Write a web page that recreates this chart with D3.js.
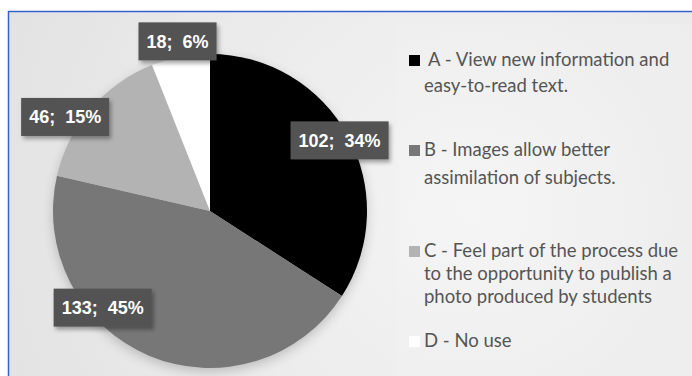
<!DOCTYPE html>
<html>
<head>
<meta charset="utf-8">
<script src="https://cdn.jsdelivr.net/npm/d3@7"></script>
<style>
  html, body { margin: 0; padding: 0; background: #fff; }
  svg { display: block; }
</style>
</head>
<body>
<svg id="chart" width="692" height="376"></svg>
<script>
// data
const categories = ['A', 'B', 'C', 'D'];
const counts = [102, 133, 46, 18];
const percents = [34, 45, 15, 6];
const legendLines = [
  [' A - View new information and', 'easy-to-read text.'],
  ['B - Images allow better', 'assimilation of subjects.'],
  ['C - Feel part of the process due', 'to the opportunity to publish a', 'photo produced by students'],
  ['D - No use']
];

const sliceColors = ['#000000', '#777777', '#b3b3b3', '#ffffff'];

// label placement (Excel "best fit" look): radius factor + optional angle override (deg)
const labelLayout = [{ k: 0.94 }, { k: 0.92, deg: 228 }, { k: 1.1, deg: 303 }, { k: 1.1 }];

const W = 692, H = 376;
const cx = 210, cy = 211, R = 157;

const svg = d3.select('#chart');
const defs = svg.append('defs');

const bg = defs.append('radialGradient').attr('id', 'bg')
  .attr('gradientUnits', 'userSpaceOnUse')
  .attr('cx', 470).attr('cy', 210).attr('r', 560);
bg.append('stop').attr('offset', '0%').attr('stop-color', '#f4f4f4');
bg.append('stop').attr('offset', '50%').attr('stop-color', '#ebebeb');
bg.append('stop').attr('offset', '100%').attr('stop-color', '#e0e0e0');

const pieShadow = defs.append('filter').attr('id', 'pieShadow')
  .attr('x', '-20%').attr('y', '-20%').attr('width', '140%').attr('height', '140%');
pieShadow.append('feGaussianBlur').attr('in', 'SourceAlpha').attr('stdDeviation', 6);
pieShadow.append('feOffset').attr('dx', 0).attr('dy', 4).attr('result', 'b');
pieShadow.append('feComponentTransfer').append('feFuncA').attr('type', 'linear').attr('slope', 0.2);

const boxShadow = defs.append('filter').attr('id', 'boxShadow')
  .attr('x', '-20%').attr('y', '-30%').attr('width', '150%').attr('height', '170%');
boxShadow.append('feGaussianBlur').attr('in', 'SourceAlpha').attr('stdDeviation', 2);
boxShadow.append('feOffset').attr('dx', 2).attr('dy', 3).attr('result', 'o');
boxShadow.append('feComponentTransfer').attr('result', 's').append('feFuncA').attr('type', 'linear').attr('slope', 0.35);
const bm = boxShadow.append('feMerge');
bm.append('feMergeNode').attr('in', 's');
bm.append('feMergeNode').attr('in', 'SourceGraphic');

// background + frame
svg.append('rect').attr('x', 8).attr('y', 11).attr('width', W).attr('height', H)
  .attr('fill', 'url(#bg)');
svg.append('rect').attr('x', 397).attr('y', 24).attr('width', W - 397).attr('height', H)
  .attr('fill', '#ffffff').attr('opacity', 0.1);
svg.append('line').attr('x1', 8).attr('x2', W).attr('y1', 11.5).attr('y2', 11.5)
  .attr('stroke', '#3463c9').attr('stroke-width', 1.5);
svg.append('line').attr('x1', 8.5).attr('x2', 8.5).attr('y1', 11).attr('y2', H)
  .attr('stroke', '#3463c9').attr('stroke-width', 1.5);

const data = categories.map((c, i) => ({ cat: c, count: counts[i], pct: percents[i], color: sliceColors[i], i }));

const pie = d3.pie().sort(null).value(d => d.count);
const arcs = pie(data);
const arc = d3.arc().innerRadius(0).outerRadius(R);

const g = svg.append('g').attr('transform', `translate(${cx},${cy})`);
g.append('circle').attr('r', R).attr('fill', '#000').attr('filter', 'url(#pieShadow)');
g.selectAll('path.slice').data(arcs).join('path')
  .attr('class', 'slice')
  .attr('d', arc)
  .attr('fill', d => d.data.color);

// data labels
const labels = g.selectAll('g.lbl').data(arcs).join('g').attr('class', 'lbl')
  .attr('transform', d => {
    const L = labelLayout[d.data.i];
    const a = L.deg != null ? L.deg * Math.PI / 180 : (d.startAngle + d.endAngle) / 2;
    const r = R * L.k;
    return `translate(${r * Math.sin(a)},${-r * Math.cos(a)})`;
  });
labels.append('rect').attr('fill', '#525252').attr('filter', 'url(#boxShadow)');
const texts = labels.append('text')
  .attr('text-anchor', 'middle').attr('dy', '0.36em')
  .style('white-space', 'pre')
  .attr('font-family', 'Liberation Sans, Arial, sans-serif')
  .attr('font-weight', 'bold').attr('font-size', 18)
  .attr('fill', '#ffffff')
  .text(d => `${d.data.count};  ${d.data.pct}%`);
texts.each(function () {
  const w = this.getComputedTextLength();
  d3.select(this.parentNode).select('rect')
    .attr('x', -w / 2 - 8).attr('y', -19).attr('width', w + 16).attr('height', 38);
});

// legend
const legendTop = [66, 156, 257, 347];
const lineH = [26, 28, 23, 0];
const legend = svg.append('g');
data.forEach((d, i) => {
  const lg = legend.append('g');
  lg.append('rect').attr('x', 409).attr('y', legendTop[i] - 11).attr('width', 11).attr('height', 11)
    .attr('fill', d.color);
  legendLines[i].forEach((t, j) => {
    lg.append('text')
      .attr('x', 424)
      .attr('y', legendTop[i] + j * lineH[i])
      .style('white-space', 'pre')
      .attr('font-family', 'Lato, Open Sans, sans-serif')
      .attr('font-size', 18.5)
      .attr('fill', '#555555')
      .text(t);
  });
});
</script>
</body>
</html>
